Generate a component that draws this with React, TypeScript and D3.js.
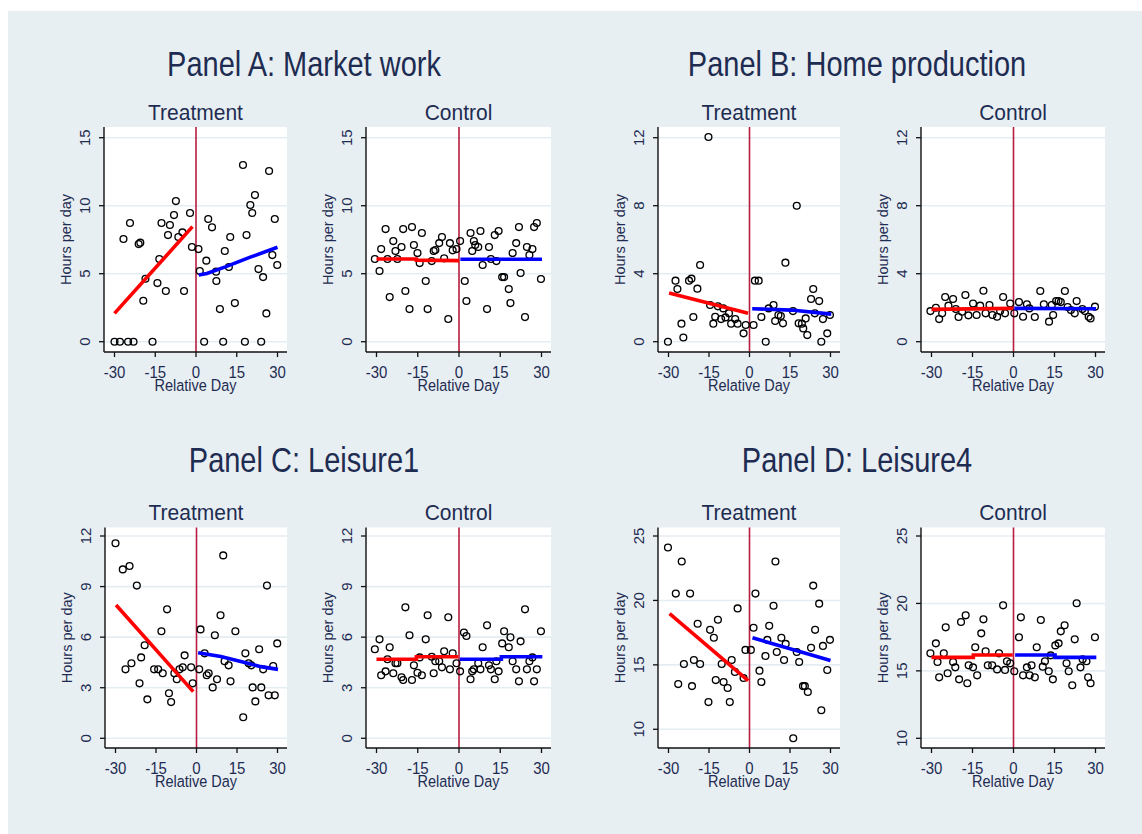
import React from "react";
import * as d3 from "d3";

type Pt = [number, number];

const FONT = '"Liberation Sans", Arial, Helvetica, sans-serif';
const TEXT = "#1e2c52";
const BG = "#e8eff2";
const GRID = "#e4edf1";
const ZERO_LINE = "#b81c40";

const dayTicks = [-30, -15, 0, 15, 30];

const panelTitles = [
  "Panel A: Market work",
  "Panel B: Home production",
  "Panel C: Leisure1",
  "Panel D: Leisure4",
];

const yTicksA = [0, 5, 10, 15];
const yTicksB = [0, 4, 8, 12];
const yTicksC = [0, 3, 6, 9, 12];
const yTicksD = [10, 15, 20, 25];

// Panel A: market work, daily means by relative day
const marketTreat: Pt[] = [
  [-30, 0], [-28, 0], [-25, 0], [-23, 0], [-16, 0],
  [-26.7, 7.55], [-24.3, 8.73], [-21.1, 7.18], [-20.5, 7.28], [-18.6, 4.63],
  [-19.4, 3.01], [-13.5, 6.08], [-14.2, 4.31], [-12.7, 8.73], [-9.6, 8.58],
  [-10.3, 7.84], [-11.1, 3.73], [-8.1, 9.31], [-7.4, 10.34], [-6.5, 7.7],
  [-5.0, 8.04], [-4.4, 3.73], [-2.2, 9.46], [-1.5, 6.96],
  [0.9, 6.81], [1.4, 5.2], [3, 0], [3.8, 5.96], [4.5, 9.02], [5.9, 8.41],
  [7.4, 5.15], [7.5, 4.46], [8.8, 2.4], [10, 0], [10.6, 6.67], [12.6, 7.7],
  [12.1, 5.49], [14.3, 2.84], [17.3, 12.99], [18, 0], [18.6, 7.84],
  [20.0, 10.05], [20.7, 9.46], [21.7, 10.78], [23.0, 5.34], [24, 0],
  [24.7, 4.75], [25.9, 2.08], [26.9, 12.55], [28.1, 6.37], [29.0, 9.02],
  [29.9, 5.64],
];
const marketTreatPre: Pt[] = [[-30, 2.08], [-1.3, 8.46]];
const marketTreatPost: Pt[] = [[1, 4.9], [4, 5.02], [10.8, 5.5], [19.5, 6.18], [30, 6.94]];

const marketCtrl: Pt[] = [
  [-30.6, 6.08], [-28.9, 5.2], [-28.3, 6.81], [-26.7, 8.28], [-26.0, 6.08],
  [-25.2, 3.28], [-23.9, 7.4], [-23.1, 6.67], [-22.4, 6.08], [-20.9, 6.96],
  [-20.3, 8.28], [-19.5, 3.73], [-18.0, 2.4], [-17.1, 8.43], [-16.4, 7.11],
  [-15.1, 6.52], [-14.3, 5.78], [-13.5, 7.99], [-12.1, 4.46], [-11.4, 2.4],
  [-9.9, 5.93], [-9.2, 6.67], [-8.6, 6.74], [-7.2, 7.25], [-6.2, 7.7],
  [-5.4, 6.13], [-3.9, 1.67], [-3.3, 7.25], [-2.3, 6.72], [-0.9, 6.81],
  [0.4, 7.4],
  [2.1, 4.46], [2.7, 2.99], [4.2, 7.99], [4.8, 6.67], [5.4, 7.4], [5.9, 7.11],
  [7.0, 6.96], [7.8, 8.14], [8.6, 5.64], [10.2, 2.4], [10.9, 6.96],
  [11.6, 6.08], [13.0, 7.84], [13.6, 5.93], [14.4, 8.14], [15.7, 4.75],
  [16.4, 4.75], [18.1, 3.87], [18.7, 2.84], [19.5, 6.52], [20.8, 7.25],
  [21.8, 8.43], [22.4, 5.05], [24.0, 1.81], [24.7, 6.96], [25.6, 6.37],
  [26.7, 6.81], [27.3, 8.43], [28.3, 8.73], [29.8, 4.61],
];
const marketCtrlPre: Pt[] = [[-30, 6.08], [-15.5, 6.08], [-15.5, 6.0], [0, 5.96]];
const marketCtrlPost: Pt[] = [[0.5, 6.06], [30.2, 6.06]];

// Panel B: home production
const homeTreat: Pt[] = [
  [-30.2, 0], [-27.4, 3.59], [-26.7, 3.1], [-25.2, 1.06], [-24.5, 0.25],
  [-22.4, 3.59], [-21.5, 3.71], [-20.8, 1.45], [-19.3, 3.12], [-18.3, 4.51],
  [-15.2, 12.04], [-14.6, 2.16], [-13.4, 1.06], [-12.7, 1.47], [-11.7, 2.08],
  [-10.5, 1.33], [-9.7, 1.96], [-8.9, 1.43], [-7.6, 1.67], [-6.8, 1.06],
  [-5.3, 1.33], [-4.4, 1.06], [-2.2, 0.49], [-1.4, 0.98],
  [1.5, 0.98], [2.0, 3.59], [3.4, 3.59], [4.4, 1.45], [6.0, 0], [7.1, 1.96],
  [8.9, 2.16], [9.5, 1.22], [10.7, 1.57], [11.6, 1.51], [12.4, 1.08],
  [13.3, 4.65], [16.1, 1.8], [17.5, 8.0], [18.2, 1.08], [19.4, 1.06],
  [19.9, 0.78], [20.8, 1.37], [21.4, 0.39], [22.8, 2.51], [23.6, 3.1],
  [24.2, 1.67], [25.8, 2.39], [26.6, 0], [27.2, 1.33], [28.8, 0.49],
  [29.8, 1.57],
];
const homeTreatPre: Pt[] = [[-29.8, 2.86], [-0.5, 1.67]];
const homeTreatPost: Pt[] = [[1, 1.94], [15.5, 1.86], [30.3, 1.62]];

const homeCtrl: Pt[] = [
  [-30.4, 1.8], [-28.4, 2.0], [-27.2, 1.33], [-26.1, 1.67], [-25.0, 2.63],
  [-23.8, 2.12], [-22.1, 2.51], [-21.1, 1.92], [-20.1, 1.45], [-18.8, 1.76],
  [-17.6, 2.75], [-16.5, 1.55], [-14.8, 2.25], [-13.5, 1.57], [-12.2, 2.12],
  [-11.0, 3.0], [-10.2, 1.67], [-8.8, 2.16], [-7.7, 1.57], [-6.0, 1.47],
  [-4.9, 1.8], [-3.8, 2.63], [-3.1, 1.67], [-1.2, 2.25], [0.3, 1.67],
  [2.0, 2.33], [3.5, 1.47], [4.9, 2.2], [5.8, 1.96], [7.8, 1.45], [9.8, 2.98],
  [11.1, 2.2], [13.0, 1.18], [14.0, 2.16], [14.5, 1.57], [15.6, 2.39],
  [16.5, 2.39], [17.3, 2.33], [18.8, 2.98], [19.8, 2.04], [21.0, 1.86],
  [22.4, 1.67], [23.1, 2.39], [25.2, 1.92], [26.1, 1.8], [27.5, 1.47],
  [28.2, 1.37], [29.8, 2.06],
];
const homeCtrlPre: Pt[] = [[-30, 1.9], [-0.2, 1.96]];
const homeCtrlPost: Pt[] = [[0.3, 1.96], [30.2, 1.94]];

// Panel C: leisure (definition 1)
const leisure1Treat: Pt[] = [
  [-30, 11.57], [-27.3, 10.02], [-26.3, 4.09], [-24.8, 10.22], [-24.1, 4.45],
  [-22.1, 9.06], [-21.1, 3.26], [-20.5, 4.8], [-19.2, 5.52], [-18.2, 2.31],
  [-15.7, 4.09], [-14.2, 4.09], [-13.0, 6.35], [-12.5, 3.86], [-10.9, 7.65],
  [-10.2, 2.67], [-9.4, 2.15], [-8.2, 3.86], [-7.3, 3.5], [-6.3, 4.09],
  [-5.1, 4.21], [-4.4, 4.92], [-2.0, 4.21], [-1.4, 3.26],
  [1.0, 4.09], [1.5, 6.46], [3.0, 5.04], [3.8, 3.74], [4.5, 3.86], [6.0, 3.02],
  [6.8, 6.11], [7.6, 3.5], [8.9, 7.3], [9.9, 10.85], [10.4, 4.57], [11.9, 4.33],
  [12.6, 3.38], [14.4, 6.35], [17.3, 1.25], [18.1, 5.04], [19.3, 4.45],
  [20.3, 4.33], [20.8, 3.02], [21.8, 2.19], [23.2, 5.28], [24.0, 3.02],
  [24.7, 4.09], [26.1, 9.06], [26.7, 2.55], [28.4, 4.29], [29.0, 2.55],
  [29.9, 5.63],
];
const leisure1TreatPre: Pt[] = [[-29.8, 7.91], [-1.2, 2.77]];
const leisure1TreatPost: Pt[] = [[0.6, 5.08], [9, 4.85], [16.4, 4.55], [23.8, 4.25], [30.2, 4.09]];

const leisure1Ctrl: Pt[] = [
  [-30.6, 5.28], [-28.9, 5.87], [-28.3, 3.74], [-26.7, 3.97], [-26.0, 4.69],
  [-25.2, 5.4], [-23.9, 3.86], [-23.1, 4.45], [-22.4, 4.45], [-20.9, 3.62],
  [-20.3, 3.46], [-19.5, 7.77], [-18.0, 6.11], [-17.1, 3.46], [-16.4, 4.33],
  [-15.1, 3.89], [-14.3, 4.8], [-13.5, 3.74], [-12.1, 5.87], [-11.4, 7.3],
  [-9.9, 4.84], [-9.2, 3.86], [-8.6, 4.57], [-7.2, 4.57], [-6.2, 4.21],
  [-5.4, 5.16], [-3.9, 7.18], [-3.3, 4.09], [-2.3, 5.04], [-0.9, 4.45],
  [0.4, 3.97],
  [1.8, 6.27], [2.7, 6.07], [4.2, 3.5], [4.8, 3.97], [5.4, 4.09], [7.0, 4.45],
  [7.8, 4.09], [8.6, 5.4], [10.2, 6.7], [10.9, 4.33], [11.6, 4.09], [13.0, 3.5],
  [13.6, 4.57], [14.4, 3.97], [15.7, 5.63], [16.4, 6.35], [18.1, 5.4],
  [18.7, 5.99], [19.5, 4.57], [20.8, 4.09], [21.8, 3.38], [22.4, 5.75],
  [24.0, 7.65], [24.7, 4.09], [25.6, 4.57], [26.7, 4.8], [27.3, 3.38],
  [28.3, 4.09], [29.8, 6.35],
];
const leisure1CtrlPre: Pt[] = [[-30, 4.69], [-15.5, 4.69], [-15.5, 4.84], [-0.3, 4.84]];
const leisure1CtrlPost: Pt[] = [[0.3, 4.69], [15.4, 4.69], [15.4, 4.84], [30.3, 4.84]];

// Panel D: leisure (definition 4)
const leisure4Treat: Pt[] = [
  [-30.2, 24.11], [-25.1, 23.02], [-27.3, 20.53], [-26.4, 13.51], [-24.3, 15.07],
  [-22.0, 20.53], [-21.3, 13.35], [-20.6, 15.38], [-19.2, 18.19], [-18.3, 15.07],
  [-15.2, 12.11], [-14.6, 17.72], [-13.2, 17.1], [-12.5, 13.82], [-11.7, 18.5],
  [-10.3, 15.07], [-9.6, 13.67], [-8.1, 13.2], [-7.3, 12.11], [-6.6, 15.38],
  [-5.4, 14.45], [-4.4, 19.38], [-2.2, 13.98], [-1.5, 16.16],
  [0.5, 16.16], [1.5, 17.88], [2.2, 20.53], [3.7, 14.55], [4.4, 13.67],
  [5.9, 15.69], [6.6, 16.94], [7.3, 18.03], [8.9, 19.59], [9.6, 23.02],
  [10.1, 16.0], [11.8, 17.1], [12.8, 15.38], [13.4, 16.63], [16.2, 9.3],
  [17.5, 16.0], [18.4, 15.22], [19.8, 13.35], [20.5, 13.35], [21.6, 12.89],
  [22.8, 16.32], [23.6, 21.15], [24.3, 17.72], [25.8, 19.75], [26.6, 11.48],
  [27.2, 16.47], [28.8, 14.6], [29.8, 16.94],
];
const leisure4TreatPre: Pt[] = [[-29.6, 18.97], [-0.5, 13.77]];
const leisure4TreatPost: Pt[] = [[1.1, 17.1], [30, 15.33]];

const leisure4Ctrl: Pt[] = [
  [-30.4, 16.3], [-28.4, 17.04], [-27.8, 15.66], [-27.2, 14.52], [-25.5, 16.3],
  [-24.8, 18.23], [-24.1, 14.82], [-22.1, 15.66], [-21.3, 15.26], [-19.9, 14.37],
  [-19.2, 18.62], [-17.5, 19.12], [-16.9, 14.08], [-16.4, 15.41], [-14.8, 15.26],
  [-14.0, 16.75], [-13.3, 14.67], [-11.8, 17.78], [-11.0, 18.82], [-10.2, 16.45],
  [-9.4, 15.41], [-7.8, 15.41], [-6.0, 15.11], [-5.3, 16.3], [-3.8, 19.86],
  [-3.1, 15.07], [-2.4, 15.71], [-1.2, 15.56], [0.3, 14.97],
  [2.0, 17.49], [2.7, 18.97], [3.5, 14.67], [4.9, 15.26], [5.9, 14.67],
  [6.6, 15.41], [7.8, 14.52], [8.5, 16.75], [10.0, 18.77], [10.7, 15.31],
  [11.5, 15.71], [12.9, 14.97], [13.6, 16.15], [14.4, 14.37], [15.3, 16.89],
  [16.5, 17.04], [17.3, 17.93], [18.7, 18.38], [19.4, 15.56], [20.2, 14.97],
  [21.5, 13.93], [22.4, 17.34], [23.1, 20.01], [24.5, 15.26], [25.3, 15.86],
  [26.7, 15.71], [27.3, 14.52], [28.2, 14.08], [29.8, 17.49],
];
const leisure4CtrlPre: Pt[] = [[-30, 16.0], [-14.7, 16.0], [-14.7, 16.18], [-0.3, 16.18]];
const leisure4CtrlPost: Pt[] = [[0.6, 16.18], [15.2, 16.18], [15.2, 16.0], [30.3, 16.0]];

type SubplotCfg = {
  title: string;
  left: number;
  right: number;
  top: number;
  bottom: number;
  tickTop: number;
  tickBottom: number;
  yTicks: number[];
  points: Pt[];
  pre: Pt[];
  post: Pt[];
};

const rowTop = { top: 127, bottom: 352, tickTop: 137.7, tickBottom: 341.7 };
const rowBottom = { top: 527.5, bottom: 748, tickTop: 536, tickBottom: 738.3 };

const subplots: SubplotCfg[] = [
  { title: "Treatment", left: 104, right: 287, ...rowTop, yTicks: yTicksA, points: marketTreat, pre: marketTreatPre, post: marketTreatPost },
  { title: "Control", left: 366, right: 551, ...rowTop, yTicks: yTicksA, points: marketCtrl, pre: marketCtrlPre, post: marketCtrlPost },
  { title: "Treatment", left: 658, right: 840, ...rowTop, yTicks: yTicksB, points: homeTreat, pre: homeTreatPre, post: homeTreatPost },
  { title: "Control", left: 921, right: 1105, ...rowTop, yTicks: yTicksB, points: homeCtrl, pre: homeCtrlPre, post: homeCtrlPost },
  { title: "Treatment", left: 105, right: 287, ...rowBottom, yTicks: yTicksC, points: leisure1Treat, pre: leisure1TreatPre, post: leisure1TreatPost },
  { title: "Control", left: 366, right: 551, ...rowBottom, yTicks: yTicksC, points: leisure1Ctrl, pre: leisure1CtrlPre, post: leisure1CtrlPost },
  { title: "Treatment", left: 658, right: 840, ...rowBottom, yTicks: yTicksD, points: leisure4Treat, pre: leisure4TreatPre, post: leisure4TreatPost },
  { title: "Control", left: 921, right: 1105, ...rowBottom, yTicks: yTicksD, points: leisure4Ctrl, pre: leisure4CtrlPre, post: leisure4CtrlPost },
];

const panelTitlePos = [
  { x: 304, y: 76 },
  { x: 857, y: 76 },
  { x: 304, y: 472 },
  { x: 857, y: 472 },
];

function SText(props: {
  x: number;
  y: number;
  size: number;
  sy?: number;
  rotate?: number;
  anchor?: "start" | "middle" | "end";
  fill?: string;
  children: React.ReactNode;
}) {
  const { x, y, size, sy = 1, rotate = 0, anchor = "middle", fill = TEXT, children } = props;
  return (
    <text
      transform={`translate(${x},${y}) rotate(${rotate}) scale(1,${sy})`}
      fontSize={size}
      fontFamily={FONT}
      textAnchor={anchor}
      fill={fill}
    >
      {children}
    </text>
  );
}

function Subplot({ cfg }: { cfg: SubplotCfg }) {
  const { left, right, top, bottom, tickTop, tickBottom, yTicks, points, pre, post } = cfg;
  const x = d3.scaleLinear().domain([-30, 30]).range([left + 10.5, right - 9.5]);
  const lo = Math.min(yTicks[0], d3.min(points, (d) => d[1]) as number);
  const y = d3.scaleLinear().domain([lo, yTicks[yTicks.length - 1]]).range([tickBottom, tickTop]);
  const line = d3
    .line<Pt>()
    .x((d) => x(d[0]))
    .y((d) => y(d[1]));
  const cx = (left + right) / 2;
  const cy = (top + bottom) / 2;

  return (
    <g>
      <rect x={left} y={top} width={right - left} height={bottom - top} fill="#ffffff" />
      {yTicks.map((t) => (
        <line key={`g${t}`} x1={left} x2={right} y1={y(t)} y2={y(t)} stroke={GRID} strokeWidth={1.6} />
      ))}
      <line x1={x(0)} x2={x(0)} y1={top} y2={bottom} stroke={ZERO_LINE} strokeWidth={1.6} />
      {points.map((p, i) => (
        <circle key={i} cx={x(p[0])} cy={y(p[1])} r={3.4} fill="none" stroke="#000" strokeWidth={1.35} />
      ))}
      <path d={line(pre) || ""} fill="none" stroke="#ff0000" strokeWidth={3.6} />
      <path d={line(post) || ""} fill="none" stroke="#0000ff" strokeWidth={3.6} />

      {/* axes */}
      <line x1={left} x2={left} y1={top} y2={bottom} stroke="#111" strokeWidth={1.4} />
      <line x1={left} x2={right} y1={bottom} y2={bottom} stroke="#111" strokeWidth={1.4} />
      {yTicks.map((t) => (
        <g key={`yt${t}`}>
          <line x1={left - 5} x2={left} y1={y(t)} y2={y(t)} stroke="#111" strokeWidth={1.3} />
          <SText x={left - 14.5} y={y(t)} size={15} rotate={-90}>
            {t}
          </SText>
        </g>
      ))}
      {dayTicks.map((t) => (
        <g key={`xt${t}`}>
          <line x1={x(t)} x2={x(t)} y1={bottom} y2={bottom + 5} stroke="#111" strokeWidth={1.3} />
          <SText x={x(t)} y={bottom + 26} size={15} sy={1.15}>
            {t}
          </SText>
        </g>
      ))}
      <SText x={cx} y={bottom + 39} size={14.5} sy={1.2}>
        Relative Day
      </SText>
      <SText x={left - 33.5} y={cy} size={14.5} rotate={-90}>
        Hours per day
      </SText>
      <SText x={cx} y={top - 7.5} size={21} sy={1.08}>
        {cfg.title}
      </SText>
    </g>
  );
}

export default function App() {
  return (
    <div style={{ position: "fixed", left: 0, top: 0 }}>
      <svg width={1142} height={834} style={{ display: "block" }}>
        <rect x={0} y={0} width={1142} height={834} fill="#ffffff" />
        <rect x={8} y={11} width={1134} height={823} fill={BG} />
        {panelTitles.map((t, i) => (
          <SText key={t} x={panelTitlePos[i].x} y={panelTitlePos[i].y} size={29} sy={1.2}>
            {t}
          </SText>
        ))}
        {subplots.map((cfg, i) => (
          <Subplot key={i} cfg={cfg} />
        ))}
      </svg>
    </div>
  );
}
